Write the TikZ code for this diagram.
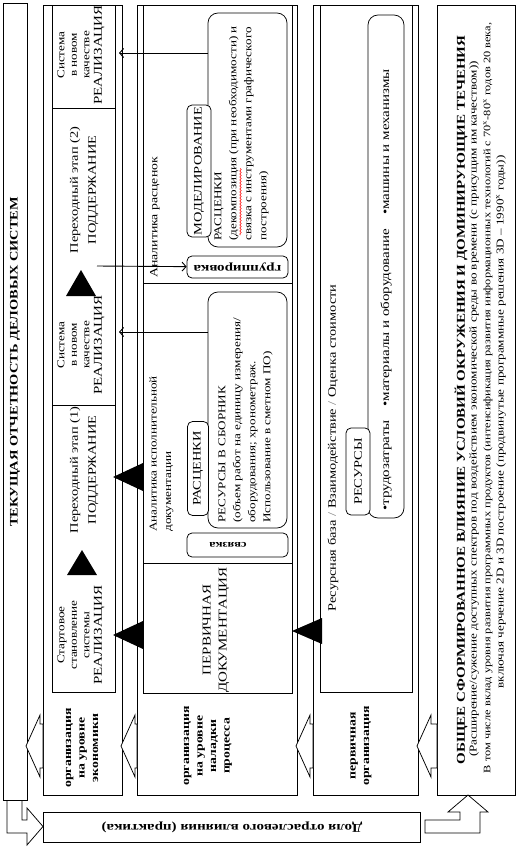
\documentclass[tikz,border=0pt]{standalone}
\usepackage{fontspec}
\setmainfont{Liberation Serif}[FakeStretch=1.25]
\usetikzlibrary{arrows.meta,decorations.pathmorphing}
\newcommand\fs[2]{\fontsize{#1}{#2}\selectfont}
\begin{document}
\begin{tikzpicture}[x=1pt,y=-1pt,line width=0.75pt,
  txt/.style={inner sep=0pt, rotate=90, align=center},
  cell/.style={txt, font=\fs{10.5}{12.5}},
  trans/.style={txt, font=\fs{11.5}{18}},
  lab/.style={txt, font=\bfseries\fs{11}{13.5}},
  rbig/.style={draw, rounded corners=10pt, rotate=90, inner sep=0pt},
  rlab/.style={draw, rounded corners=5pt, rotate=90, fill=white, inner sep=0pt, font=\fs{11.5}{13}},
  rflat/.style={draw, rounded corners=5pt, rotate=180, fill=white, inner sep=0pt, font=\bfseries\fs{12}{13}},
  arr/.style={-{Straight Barb[length=4pt,width=9pt]}, line width=0.9pt},
  tri/.style={fill=black}
]
\useasboundingbox (0,0) rectangle (518,847);

% ---------- title strip ----------
\draw (3,3) rectangle (27,800);
\node[txt, font=\bfseries\fs{11.5}{13}] (title) at (15,362) {ТЕКУЩАЯ ОТЧЕТНОСТЬ ДЕЛОВЫХ СИСТЕМ};

% ---------- box a ----------
\draw (43,5) rectangle (122,795);
\draw (52,5) rectangle (115,692);
\draw (52,108) -- (115,108);
\draw (52,405) -- (115,405);
\node[cell] (sysB) at (81,55) {Система\\в новом\\качестве\\{\fs{12}{12.5}РЕАЛИЗАЦИЯ}};
\node[trans] (p2) at (84,190) {Переходный этап (2)\\ПОДДЕРЖАНИЕ};
\fill[tri] (81,270) -- (96,296) -- (66,296) -- cycle;
\node[cell] (sysA) at (81,345) {Система\\в новом\\качестве\\{\fs{12}{12.5}РЕАЛИЗАЦИЯ}};
\node[trans] (p1) at (84,470) {Переходный этап (1)\\ПОДДЕРЖАНИЕ};
\fill[tri] (82,550) -- (97,575) -- (67,575) -- cycle;
\node[cell] (start) at (81,635) {Стартовое\\становление\\системы\\{\fs{12}{12.5}РЕАЛИЗАЦИЯ}};
\node[lab] (labA) at (82,748) {организация\\на уровне\\экономики};

% ---------- box b ----------
\draw (137,5) rectangle (297,795);
\draw (143,5) rectangle (292,693);
\draw (143,283) -- (292,283);
\draw (143,563) -- (292,563);
\node[txt, anchor=west, font=\fs{11}{13}] (anR) at (155,278) {Аналитика расценок};
\node[rbig, minimum width=234pt, minimum height=79pt] (rb1) at (247.5,130) {};
\node[rlab, minimum width=132pt, minimum height=24pt] (model) at (199,171) {МОДЕЛИРОВАНИЕ};
\node[txt, anchor=north west, align=left, font=\fs{10.5}{15}] (rb1t) at (214,241)
  {РАСЦЕНКИ\\(декомпозиция (при необходимости) и\\связка с инструментами графического\\построения)};
\draw[red, line width=0.5pt, decorate, decoration={snake, amplitude=0.8pt, segment length=3pt}] (240.5,235) -- (240.5,168);
\node[rflat, minimum width=101pt, minimum height=22pt] (grp) at (237.5,267) {группировка};

\node[txt, anchor=north west, align=left, font=\fs{10.5}{14.5}] (anI) at (149,532) {Аналитика исполнительной\\документации};
\node[rbig, minimum width=236pt, minimum height=79pt] (rb2) at (247.5,410) {};
\node[rlab, minimum width=94pt, minimum height=21pt] (rasc) at (198,468.5) {РАСЦЕНКИ};
\node[txt, anchor=north west, align=left, font=\fs{10.5}{15}] (rb2t) at (218,523)
  {РЕСУРСЫ В СБОРНИК\\(объем работ на единицу измерения/\\оборудования; хронометраж.\\Использование в сметном ПО)};
\node[rflat, minimum width=101pt, minimum height=24pt] (svz) at (237.5,545) {};
\node[txt, rotate=90, font=\bfseries\fs{10}{12}] (svzt) at (228,545) {связка};

\node[txt, font=\fs{12}{16}] (perv) at (216,630) {ПЕРВИЧНАЯ\\ДОКУМЕНТАЦИЯ};
\node[lab] (labB) at (208,746) {организация\\на уровне\\наладки\\процесса};

% connectors box b -> box a
\coordinate (c1) at (208,53);  \coordinate (c1e) at (119,53);
\draw[arr] (c1) -- (c1e);
\coordinate (c2) at (208,332); \coordinate (c2e) at (119,332);
\draw[arr] (c2) -- (c2e);
\coordinate (c3) at (97,266);
\draw[arr] (c3) -- (grp);
\fill[tri] (113,477) -- (143,463) -- (143,491) -- cycle;
\fill[tri] (113,635) -- (143,621) -- (143,649) -- cycle;

% ---------- box c ----------
\draw (313,5) rectangle (418,795);
\draw (320,5) rectangle (412,692);
\node[txt, anchor=west, font=\fs{11.5}{13}] (res) at (333,612)
  {Ресурсная база \textcolor{gray}{/} Взаимодействие \textcolor{gray}{/} Оценка стоимости};
\node[rbig, minimum width=503pt, minimum height=36pt] (rb3) at (386,266.5) {};
\node[rlab, minimum width=87pt, minimum height=24pt] (resl) at (358,471.5) {РЕСУРСЫ};
\node[txt, anchor=west, font=\fs{12}{13}] (bul) at (386,511)
  {•трудозатраты\hspace{14pt}•материалы и оборудование\hspace{14pt}•машины и механизмы};
\fill[tri] (292,631) -- (322,618) -- (322,644) -- cycle;
\node[lab] (labC) at (361,746) {первичная\\организация};

% ---------- box d ----------
\draw (437,5) rectangle (515,795);
\node[txt, font=\bfseries\fs{12}{14}] (dT) at (461,400) {ОБЩЕЕ СФОРМИРОВАННОЕ ВЛИЯНИЕ УСЛОВИЙ ОКРУЖЕНИЯ И ДОМИНИРУЮЩИЕ ТЕЧЕНИЯ};
\node[txt, font=\fs{10.5}{13}] (d2) at (474,409) {(Расширение/сужение доступных спектров под воздействием экономической среды во времени (с присущим им качеством))};
\node[txt, font=\fs{9.9}{13}] (d3) at (488,398) {В том числе вклад уровня развития программных продуктов (интенсификация развития информационных технологий с 70\textsuperscript{х}-80\textsuperscript{х} годов 20 века,};
\node[txt, font=\fs{10.5}{13}] (d4) at (501,422) {включая черчение 2D и 3D построение (продвинутые программные решения 3D – 1990\textsuperscript{х} годы))};

% ---------- hollow block arrows ----------
\foreach \t/\b in {26/43, 121/137, 296/313, 417/437}{
  \draw[fill=white] (\t,746) -- (\t+14,715) -- (\t+14,724) -- (\b,724) -- (\b,768) -- (\t+14,768) -- (\t+14,777) -- cycle;
}

% ---------- bottom ----------
\draw (7,800) -- (7,833) -- (27,833) -- (27,845) -- (43,826.5) -- (27,808) -- (27,820) -- (22,820) -- (22,800);
\draw (43,812) rectangle (420,842);
\node[txt, rotate=90, font=\bfseries\fs{12}{13}] (dolya) at (232,827) {Доля отраслевого влияния (практика)};
\draw (425,820) -- (425,833) -- (480,833) -- (480,812) -- (488,812) -- (468,795) -- (448,812) -- (460,812) -- (460,820) -- cycle;
\end{tikzpicture}
\end{document}
